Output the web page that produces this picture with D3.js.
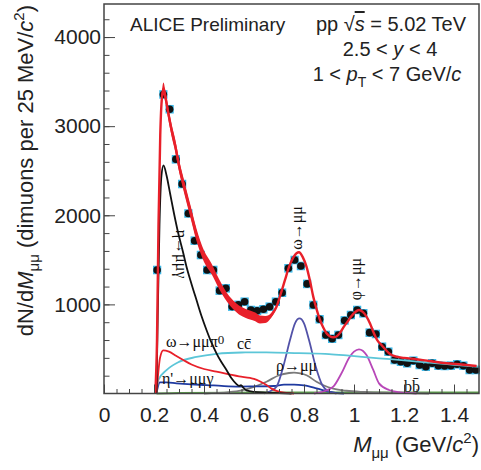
<html>
<head>
<title>ALICE dimuon invariant mass</title>
<script src="https://d3js.org/d3.v7.min.js" charset="utf-8"></script>
<style>
body { margin: 0; background: white; }
text { font-family: "Liberation Sans", Arial, sans-serif; fill: #222; }
.lbl { font-family: "Liberation Serif", "DejaVu Serif", serif; font-size: 16px; fill: #111; }
</style>
</head>
<body>
<script>
// bin centres (GeV/c2) and measured counts per 25 MeV/c2
var binCenter = [0.2125,0.2375,0.2625,0.2875,0.3125,0.3375,0.3625,0.3875,0.4125,0.4375,
  0.4625,0.4875,0.5125,0.5375,0.5625,0.5875,0.6125,0.6375,0.6625,0.6875,
  0.7125,0.7375,0.7625,0.7875,0.8125,0.8375,0.8625,0.8875,0.9125,0.9375,
  0.9625,0.9875,1.0125,1.0375,1.0625,1.0875,1.1125,1.1375,1.1625,1.1875,
  1.2125,1.2375,1.2625,1.2875,1.3125,1.3375,1.3625,1.3875,1.4125,1.4375,
  1.4625,1.4875];
var counts = [1386,3356,3190,2628,2351,2020,1715,1554,1386,1386,
  1154,1180,975,995,1030,937,929,945,974,1030,
  1131,1405,1498,1431,1230,993,833,657,615,657,
  820,881,937,900,683,668,525,469,376,357,
  339,368,320,301,339,312,309,312,328,312,
  264,264];
var SYS_ERR = 48;

// total fit: [mass, value, band half width]
var total = [[0.205,0,0],[0.212,600,60],[0.218,1900,70],[0.225,2900,70],[0.232,3330,70],[0.238,3420,70],
  [0.245,3340,70],[0.255,3180,70],[0.27,2960,70],[0.285,2780,70],[0.3,2560,70],[0.317,2360,70],
  [0.335,2160,70],[0.348,2020,70],[0.37,1780,70],[0.4,1540,65],[0.43,1400,60],[0.46,1230,55],
  [0.49,1087,50],[0.515,1000,50],[0.54,937,50],[0.565,900,50],[0.584,881,50],[0.605,860,48],
  [0.624,830,45],[0.645,830,40],[0.66,850,32],[0.675,900,25],[0.69,974,18],[0.705,1100,12],
  [0.724,1274,8],[0.74,1420,6],[0.758,1530,5],[0.77,1575,5],[0.78,1585,5],[0.795,1530,5],
  [0.81,1423,5],[0.825,1250,5],[0.837,1087,5],[0.85,950,5],[0.864,825,5],[0.877,740,5],
  [0.89,676,5],[0.905,640,5],[0.917,631,5],[0.93,640,5],[0.944,680,5],[0.957,740,5],
  [0.975,810,5],[0.99,870,5],[1.005,915,5],[1.02,937,5],[1.035,915,5],[1.05,862,5],
  [1.065,780,5],[1.077,694,5],[1.095,590,5],[1.11,544,5],[1.13,480,5],[1.144,443,5],
  [1.17,413,5],[1.2,400,5],[1.25,384,5],[1.3,365,5],[1.37,339,5],[1.43,325,5],[1.49,309,5]];

var etaDalitz = [[0.21,0],[0.215,900],[0.222,1900],[0.23,2450],[0.238,2560],[0.25,2450],
  [0.264,2250],[0.28,2020],[0.297,1798],[0.315,1600],[0.33,1423],[0.35,1230],[0.37,1049],
  [0.39,870],[0.41,713],[0.43,570],[0.45,451],[0.47,350],[0.49,264],[0.51,170],[0.53,105],
  [0.54,85],[0.548,95],[0.556,70],[0.57,35],[0.6,18],[0.65,10],[0.7,5],[0.75,0]];
var omegaDalitz = [[0.21,0],[0.216,200],[0.224,400],[0.237,485],[0.26,470],[0.29,420],
  [0.317,376],[0.35,325],[0.4,275],[0.45,245],[0.5,215],[0.54,192],[0.584,175],[0.6,165],
  [0.625,135],[0.65,95],[0.67,55],[0.69,30],[0.72,10],[0.76,0]];
var ccbar = [[0.21,0],[0.217,150],[0.25,262],[0.3,355],[0.37,410],[0.45,445],[0.55,460],
  [0.65,462],[0.78,452],[0.9,443],[0.98,425],[1.1,395],[1.2,372],[1.3,346],[1.4,322],[1.5,298]];
var etaPrimeDalitz = [[0.21,0],[0.215,70],[0.224,125],[0.25,125],[0.29,114],[0.35,102],
  [0.41,95],[0.47,85],[0.54,78],[0.6,80],[0.68,84],[0.72,100],[0.76,100],[0.8,90],
  [0.85,58],[0.9,20],[0.93,5],[0.96,0]];
var omegaMuMu = [[0.64,0],[0.66,20],[0.69,76],[0.717,301],[0.744,600],[0.764,788],[0.782,842],
  [0.8,788],[0.82,600],[0.847,301],[0.873,95],[0.9,20],[0.93,0]];
var rhoMuMu = [[0.4,0],[0.5,15],[0.55,35],[0.6,75],[0.65,132],[0.7,205],[0.74,230],[0.76,234],
  [0.785,225],[0.81,205],[0.85,132],[0.88,90],[0.917,55],[0.97,31],[1.04,17],[1.15,7],[1.3,0]];
var phiMuMu = [[0.84,0],[0.88,25],[0.917,76],[0.95,227],[0.983,413],[1.0,470],[1.02,496],
  [1.035,480],[1.05,432],[1.077,264],[1.1,114],[1.14,39],[1.18,15],[1.25,0]];
var bbbar = [[0.21,0],[0.3,6],[0.6,10],[1.0,12],[1.5,12]];

var xTickLabels = ["0","0.2","0.4","0.6","0.8","1","1.2","1.4"];
var yTickLabels = ["1000","2000","3000","4000"];

var width = 481, height = 470;
var x = d3.scaleLinear().domain([0, 1.5]).range([104, 479]);
var y = d3.scaleLinear().domain([0, 4371]).range([393.5, 4]);

var svg = d3.select("body").append("svg")
  .attr("width", width).attr("height", height);

var plot = svg.append("g");

// systematic boxes and points
plot.selectAll("rect.sys").data(binCenter).enter().append("rect")
  .attr("class", "sys")
  .attr("x", function(d) { return x(d - 0.0125) - 1; })
  .attr("width", function(d) { return x(d + 0.0125) - x(d - 0.0125) + 2; })
  .attr("y", function(d, i) { return y(counts[i] + SYS_ERR); })
  .attr("height", function(d, i) { return y(counts[i] - SYS_ERR) - y(counts[i] + SYS_ERR); })
  .attr("fill", "#3bb8e8");
plot.selectAll("circle.pt").data(binCenter).enter().append("circle")
  .attr("class", "pt")
  .attr("cx", function(d) { return x(d); })
  .attr("cy", function(d, i) { return y(counts[i]); })
  .attr("r", 3.8)
  .attr("fill", "#111");

var line = d3.line().curve(d3.curveMonotoneX)
  .x(function(d) { return x(d[0]); })
  .y(function(d) { return y(d[1]); });

function drawCurve(data, color, w) {
  plot.append("path").datum(data)
    .attr("fill", "none").attr("stroke", color)
    .attr("stroke-width", w).attr("d", line);
}

drawCurve(bbbar, "#5ea04e", 2);
drawCurve(rhoMuMu, "#7a7a7a", 1.8);
drawCurve(etaPrimeDalitz, "#1f3aa0", 1.8);
drawCurve(omegaMuMu, "#5252a8", 1.8);
drawCurve(phiMuMu, "#b847b8", 1.8);
drawCurve(ccbar, "#5cc6d8", 1.8);
drawCurve(omegaDalitz, "#e8202a", 1.8);
drawCurve(etaDalitz, "#111", 1.8);

// total fit with its uncertainty band
var band = d3.area().curve(d3.curveMonotoneX)
  .x(function(d) { return x(d[0]); })
  .y0(function(d) { return y(d[1] - d[2]); })
  .y1(function(d) { return y(d[1] + d[2]); });
plot.append("path").datum(total).attr("fill", "#e8202a").attr("d", band);
drawCurve(total, "#e8202a", 2.4);

// axes
var xAxis = d3.axisBottom(x).tickValues(xTickLabels.map(Number))
  .tickSize(-9).tickPadding(14)
  .tickFormat(function(d, i) { return xTickLabels[i]; });
var xMinor = d3.axisBottom(x).tickValues(d3.range(0, 1.5, 0.05)).tickSize(-4.5).tickFormat("");
var yAxis = d3.axisLeft(y).tickValues(yTickLabels.map(Number))
  .tickSize(-11).tickPadding(3)
  .tickFormat(function(d, i) { return yTickLabels[i]; });
var yMinor = d3.axisLeft(y).tickValues(d3.range(200, 4371, 200)).tickSize(-5.5).tickFormat("");

[xMinor, xAxis].forEach(function(a) {
  svg.append("g").attr("transform", "translate(0,393.5)").call(a);
});
[yMinor, yAxis].forEach(function(a) {
  svg.append("g").attr("transform", "translate(104,0)").call(a);
});
svg.selectAll(".domain").remove();
svg.selectAll(".tick line").attr("stroke", "#444").attr("stroke-width", 1);
svg.selectAll(".tick text").style("font-size", "21px").attr("fill", "#222");

svg.append("rect").attr("x", 104).attr("y", 4).attr("width", 375).attr("height", 389.5)
  .attr("fill", "none").attr("stroke", "#444").attr("stroke-width", 1.5);

// axis titles
var xt = svg.append("text").attr("x", 479).attr("y", 452).attr("text-anchor", "end")
  .style("font-size", "22px");
xt.append("tspan").style("font-style", "italic").text("M");
xt.append("tspan").attr("dy", 6).style("font-size", "15px").text("μμ");
xt.append("tspan").attr("dy", -6).text(" (GeV/");
xt.append("tspan").style("font-style", "italic").text("c");
xt.append("tspan").attr("dy", -9).style("font-size", "15px").text("2");
xt.append("tspan").attr("dy", 9).text(")");

var yt = svg.append("text").attr("transform", "translate(33,5) rotate(-90)")
  .attr("text-anchor", "end").style("font-size", "22px");
yt.append("tspan").text("dN/d");
yt.append("tspan").style("font-style", "italic").text("M");
yt.append("tspan").attr("dy", 6).style("font-size", "15px").text("μμ");
yt.append("tspan").attr("dy", -6).text(" (dimuons per 25 MeV/");
yt.append("tspan").style("font-style", "italic").text("c");
yt.append("tspan").attr("dy", -9).style("font-size", "15px").text("2");
yt.append("tspan").attr("dy", 9).text(")");

// header
svg.append("text").attr("x", 130).attr("y", 31).style("font-size", "19px").text("ALICE Preliminary");
var h1 = svg.append("text").attr("x", 391).attr("y", 31).attr("text-anchor", "middle").style("font-size", "20px");
h1.append("tspan").text("pp  √");
h1.append("tspan").style("font-style", "italic").style("text-decoration", "overline").text("s");
h1.append("tspan").text(" = 5.02 TeV");
var h2 = svg.append("text").attr("x", 390).attr("y", 56).attr("text-anchor", "middle").style("font-size", "20px");
h2.append("tspan").text("2.5 < ");
h2.append("tspan").style("font-style", "italic").text("y");
h2.append("tspan").text(" < 4");
var h3 = svg.append("text").attr("x", 387).attr("y", 81).attr("text-anchor", "middle").style("font-size", "20px");
h3.append("tspan").text("1 < ");
h3.append("tspan").style("font-style", "italic").text("p");
h3.append("tspan").attr("dy", 6).style("font-size", "14px").text("T");
h3.append("tspan").attr("dy", -6).text(" < 7 GeV/");
h3.append("tspan").style("font-style", "italic").text("c");

// process labels
svg.append("text").attr("class", "lbl").attr("text-anchor", "middle")
  .attr("transform", "translate(176,254) rotate(90)").text("η→μμγ");
svg.append("text").attr("class", "lbl").attr("text-anchor", "middle")
  .attr("transform", "translate(302,228) rotate(-90)").text("ω→μμ");
svg.append("text").attr("class", "lbl").attr("text-anchor", "middle")
  .attr("transform", "translate(361,279) rotate(-90)").text("φ→μμ");
var l1 = svg.append("text").attr("class", "lbl").attr("x", 166).attr("y", 347);
l1.append("tspan").text("ω→μμπ");
l1.append("tspan").attr("dy", -3).style("font-size", "13px").text("0");
svg.append("text").attr("class", "lbl").attr("x", 237).attr("y", 349).text("cc\u0304");
svg.append("text").attr("class", "lbl").attr("x", 162).attr("y", 384).text("η'→μμγ");
svg.append("text").attr("class", "lbl").attr("x", 276).attr("y", 371).text("ρ→μμ");
svg.append("text").attr("class", "lbl").attr("x", 404).attr("y", 392).text("bb\u0304");
</script>
</body>
</html>
